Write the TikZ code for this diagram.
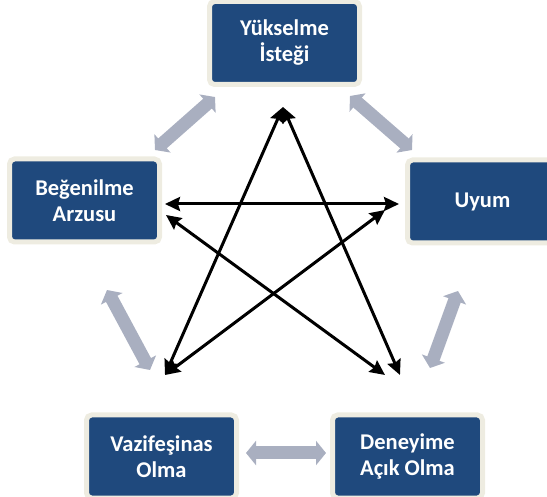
\documentclass[tikz,border=0pt]{standalone}
\usepackage{fontspec}
\setmainfont{Carlito}
\usetikzlibrary{arrows.meta}
\definecolor{boxblue}{HTML}{1F497D}
\definecolor{boxrim}{HTML}{EEECE1}
\definecolor{linkgray}{HTML}{A9AFC0}
\begin{document}
\begin{tikzpicture}[x=1pt,y=-1pt,
  trait/.style={fill=boxblue, draw=boxrim, line width=5pt, rounded corners=5pt,
    minimum width=150pt, minimum height=83pt, text=white, inner sep=0pt,
    font=\bfseries\fontsize{22.5}{26}\selectfont, align=center},
  link/.style={draw=linkgray, line width=13pt,
    {Triangle[width=24pt,length=10pt]}-{Triangle[width=24pt,length=10pt]}},
  tie/.style={draw=black, line width=3pt,
    {Stealth[length=15pt,width=14pt,inset=2pt]}-{Stealth[length=15pt,width=14pt,inset=2pt]}}
]
\useasboundingbox (0,0) rectangle (547,497);
\clip (0,0) rectangle (547,497);

% trait boxes
\node[trait] (rise)  at (284.5,43)    {Yükselme\\İsteği};
\node[trait] (like)  at (84.5,200.5)  {Beğenilme\\Arzusu};
\node[trait] (fit)   at (482.5,201.5) {Uyum};
\node[trait] (duty)  at (161.5,456.5) {Vazifeşinas\\Olma};
\node[trait] (open)  at (407.5,456.5) {Deneyime\\Açık Olma};

% ends of the grey links around the ring
\coordinate (tlA) at (155,150); \coordinate (tlB) at (215,97);
\coordinate (trA) at (350,96);  \coordinate (trB) at (412,150);
\coordinate (lA)  at (107,290); \coordinate (lB)  at (150,370);
\coordinate (rA)  at (458,291); \coordinate (rB)  at (430,368);
\coordinate (bA)  at (246,453); \coordinate (bB)  at (326,453);

\draw[link] (tlA) -- (tlB);
\draw[link] (trA) -- (trB);
\draw[link] (lA) -- (lB);
\draw[link] (rA) -- (rB);
\draw[link] (bA) -- (bB);

% points of the inner star
\coordinate (sT)   at (283,107);
\coordinate (sL1)  at (165,204);
\coordinate (sL2)  at (166,215);
\coordinate (sR1)  at (399,204);
\coordinate (sR2)  at (385,210);
\coordinate (sBL)  at (165,375);
\coordinate (sBR1) at (385,375);
\coordinate (sBR2) at (400,375);

\draw[tie] (sT) -- (sBL);
\draw[tie] (sT) -- (sBR2);
\draw[tie] (sL1) -- (sR1);
\draw[tie] (sL2) -- (sBR1);
\draw[tie] (sR2) -- (sBL);
\end{tikzpicture}
\end{document}
